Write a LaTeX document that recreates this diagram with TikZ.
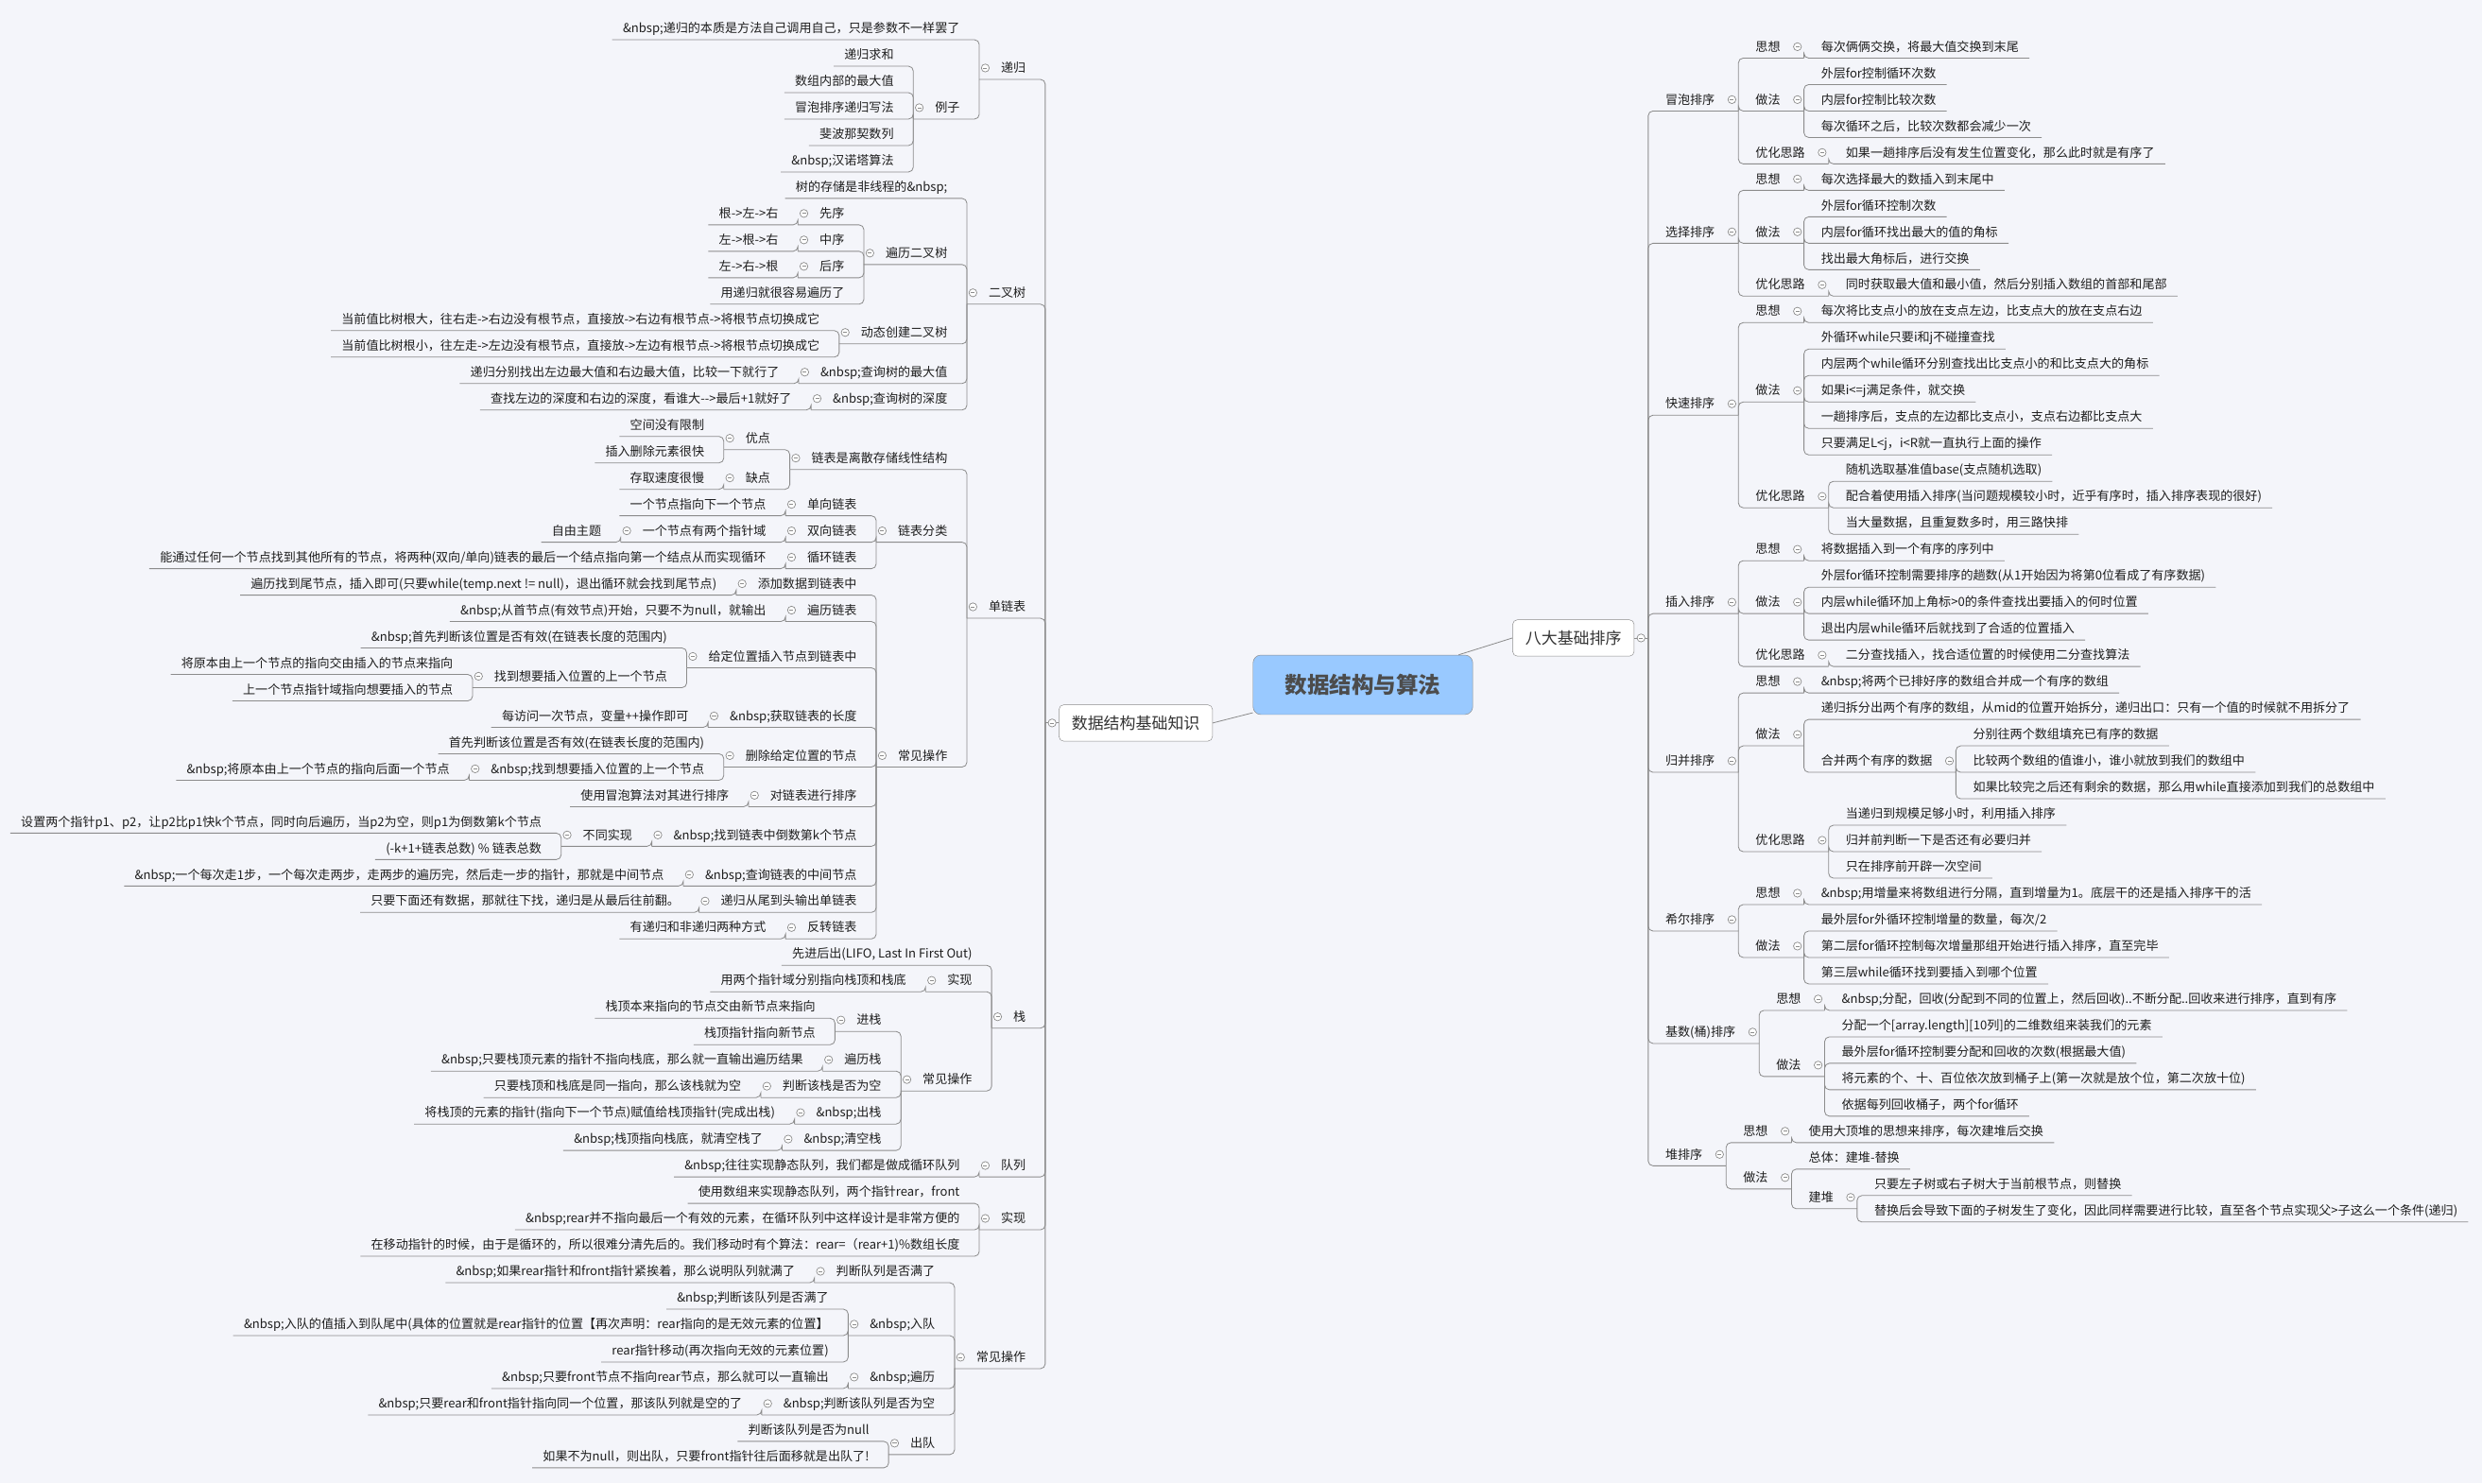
\documentclass[tikz,border=0pt]{standalone}
\usepackage{fontspec}
\setmainfont{Noto Sans CJK SC}
\usepackage{tikz}

\definecolor{bgc}{RGB}{244,245,250}
\definecolor{linec}{RGB}{140,140,140}
\definecolor{rootc}{RGB}{153,201,255}
\definecolor{txtc}{RGB}{30,30,30}

\newcommand{\leaffont}{\fontsize{11.1pt}{13pt}\selectfont}
\newcommand{\nb}{\&nbsp;}

\tikzset{
  link/.style={draw=linec, line width=0.7pt, rounded corners=1.5mm},
  rtext/.style={anchor=south west, inner sep=0pt, text depth=2.12mm, text height=3.2mm, font=\leaffont, text=txtc},
  ltext/.style={rtext, anchor=south east},
  fold/.style={circle, draw=linec, fill=white, line width=0.6pt, inner sep=0pt, minimum size=2.5mm,
    path picture={\draw[linec, line width=0.6pt] ([xshift=-0.6mm]path picture bounding box.center) -- ([xshift=0.6mm]path picture bounding box.center);}},
  hub/.style={inner sep=0pt, minimum size=0pt},
  mainbox/.style={draw=linec, fill=white, rounded corners=1.5mm, minimum height=11.5mm, inner xsep=4mm,
    font=\fontsize{14.4pt}{17pt}\selectfont, text=black!80},
  rootbox/.style={draw=linec, fill=rootc, rounded corners=2.5mm, minimum width=69.4mm, minimum height=18.8mm,
    font=\fontsize{20pt}{24pt}\selectfont\bfseries, text=black!70},
}

% right side topics: name, parent, row, text
\newcommand{\Rleaf}[4]{%
  \node[rtext] (#1) at (#2.south east |- 0,{36.7+16.71*#3}) {\hspace*{5.35mm}#4\hspace*{3.3mm}};
  \draw[link] (#2.south east) -- (#1.south west) -- (#1.south east);}
\newcommand{\Rbranch}[4]{%
  \node[rtext] (#1) at (#2.south east |- 0,{36.7+16.71*#3}) {\hspace*{5.35mm}#4\hspace*{7.4mm}};
  \draw[link] (#2.south east) -- (#1.south west) -- (#1.south east);
  \node[fold] (#1f) at ([xshift=-2.05mm,yshift=3.6mm]#1.south east) {};}
% left side topics
\newcommand{\Lleaf}[4]{%
  \node[ltext] (#1) at (#2.south west |- 0,{25.1+16.706*#3}) {\hspace*{3.3mm}#4\hspace*{6.1mm}};
  \draw[link] (#2.south west) -- (#1.south east) -- (#1.south west);}
\newcommand{\Lbranch}[4]{%
  \node[ltext] (#1) at (#2.south west |- 0,{25.1+16.706*#3}) {\hspace*{6.8mm}#4\hspace*{6.1mm}};
  \draw[link] (#2.south west) -- (#1.south east) -- (#1.south west);
  \node[fold] (#1f) at ([xshift=1.9mm,yshift=3.6mm]#1.south west) {};}

\begin{document}
\begin{tikzpicture}[x=0.5mm, y=-0.5mm]
	\fill[bgc] (0,0) rectangle (1568,937);
	\path[use as bounding box] (0,0) rectangle (1568,937);

	% central topic and the two main branches
	\node[rootbox] (root) at (861,432.6) {数据结构与算法};
	\node[mainbox] (bd) at (994,403) {八大基础排序};
	\node[mainbox] (jc) at (717.5,456.7) {数据结构基础知识};
	\draw[link] (root) -- (bd.west);
	\draw[link] (root) -- (jc.east);
	\node[hub] (bdb) at ([xshift=4.3mm]bd.east) {};
	\node[hub] (jcb) at ([xshift=-4.2mm]jc.west) {};
	\draw[link] (bd.east) -- (bdb);
	\draw[link] (jc.west) -- (jcb);

	% ---- 八大基础排序 ----
	\Rbranch{mp}{bdb}{2}{冒泡排序}
	\Rbranch{mpA}{mp}{0}{思想}
	\Rleaf{mpA1}{mpA}{0}{每次俩俩交换，将最大值交换到末尾}
	\Rbranch{mpB}{mp}{2}{做法}
	\Rleaf{mpB1}{mpB}{1}{外层for控制循环次数}
	\Rleaf{mpB2}{mpB}{2}{内层for控制比较次数}
	\Rleaf{mpB3}{mpB}{3}{每次循环之后，比较次数都会减少一次}
	\Rbranch{mpC}{mp}{4}{优化思路}
	\Rleaf{mpC1}{mpC}{4}{如果一趟排序后没有发生位置变化，那么此时就是有序了}

	\Rbranch{xz}{bdb}{7}{选择排序}
	\Rbranch{xzA}{xz}{5}{思想}
	\Rleaf{xzA1}{xzA}{5}{每次选择最大的数插入到末尾中}
	\Rbranch{xzB}{xz}{7}{做法}
	\Rleaf{xzB1}{xzB}{6}{外层for循环控制次数}
	\Rleaf{xzB2}{xzB}{7}{内层for循环找出最大的值的角标}
	\Rleaf{xzB3}{xzB}{8}{找出最大角标后，进行交换}
	\Rbranch{xzC}{xz}{9}{优化思路}
	\Rleaf{xzC1}{xzC}{9}{同时获取最大值和最小值，然后分别插入数组的首部和尾部}

	\Rbranch{ks}{bdb}{13.5}{快速排序}
	\Rbranch{ksA}{ks}{10}{思想}
	\Rleaf{ksA1}{ksA}{10}{每次将比支点小的放在支点左边，比支点大的放在支点右边}
	\Rbranch{ksB}{ks}{13}{做法}
	\Rleaf{ksB1}{ksB}{11}{外循环while只要i和j不碰撞查找}
	\Rleaf{ksB2}{ksB}{12}{内层两个while循环分别查找出比支点小的和比支点大的角标}
	\Rleaf{ksB3}{ksB}{13}{如果i<=j满足条件，就交换}
	\Rleaf{ksB4}{ksB}{14}{一趟排序后，支点的左边都比支点小，支点右边都比支点大}
	\Rleaf{ksB5}{ksB}{15}{只要满足L<j，i<R就一直执行上面的操作}
	\Rbranch{ksC}{ks}{17}{优化思路}
	\Rleaf{ksC1}{ksC}{16}{随机选取基准值base(支点随机选取)}
	\Rleaf{ksC2}{ksC}{17}{配合着使用插入排序(当问题规模较小时，近乎有序时，插入排序表现的很好)}
	\Rleaf{ksC3}{ksC}{18}{当大量数据，且重复数多时，用三路快排}

	\Rbranch{cr}{bdb}{21}{插入排序}
	\Rbranch{crA}{cr}{19}{思想}
	\Rleaf{crA1}{crA}{19}{将数据插入到一个有序的序列中}
	\Rbranch{crB}{cr}{21}{做法}
	\Rleaf{crB1}{crB}{20}{外层for循环控制需要排序的趟数(从1开始因为将第0位看成了有序数据)}
	\Rleaf{crB2}{crB}{21}{内层while循环加上角标>0的条件查找出要插入的何时位置}
	\Rleaf{crB3}{crB}{22}{退出内层while循环后就找到了合适的位置插入}
	\Rbranch{crC}{cr}{23}{优化思路}
	\Rleaf{crC1}{crC}{23}{二分查找插入，找合适位置的时候使用二分查找算法}

	\Rbranch{gb}{bdb}{27}{归并排序}
	\Rbranch{gbA}{gb}{24}{思想}
	\Rleaf{gbA1}{gbA}{24}{\nb{}将两个已排好序的数组合并成一个有序的数组}
	\Rbranch{gbB}{gb}{26}{做法}
	\Rleaf{gbB1}{gbB}{25}{递归拆分出两个有序的数组，从mid的位置开始拆分，递归出口：只有一个值的时候就不用拆分了}
	\Rbranch{gbB2}{gbB}{27}{合并两个有序的数据}
	\Rleaf{gbB2a}{gbB2}{26}{分别往两个数组填充已有序的数据}
	\Rleaf{gbB2b}{gbB2}{27}{比较两个数组的值谁小，谁小就放到我们的数组中}
	\Rleaf{gbB2c}{gbB2}{28}{如果比较完之后还有剩余的数据，那么用while直接添加到我们的总数组中}
	\Rbranch{gbC}{gb}{30}{优化思路}
	\Rleaf{gbC1}{gbC}{29}{当递归到规模足够小时，利用插入排序}
	\Rleaf{gbC2}{gbC}{30}{归并前判断一下是否还有必要归并}
	\Rleaf{gbC3}{gbC}{31}{只在排序前开辟一次空间}

	\Rbranch{xe}{bdb}{33}{希尔排序}
	\Rbranch{xeA}{xe}{32}{思想}
	\Rleaf{xeA1}{xeA}{32}{\nb{}用增量来将数组进行分隔，直到增量为1。底层干的还是插入排序干的活}
	\Rbranch{xeB}{xe}{34}{做法}
	\Rleaf{xeB1}{xeB}{33}{最外层for外循环控制增量的数量，每次/2}
	\Rleaf{xeB2}{xeB}{34}{第二层for循环控制每次增量那组开始进行插入排序，直至完毕}
	\Rleaf{xeB3}{xeB}{35}{第三层while循环找到要插入到哪个位置}

	\Rbranch{js}{bdb}{37.25}{基数(桶)排序}
	\Rbranch{jsA}{js}{36}{思想}
	\Rleaf{jsA1}{jsA}{36}{\nb{}分配，回收(分配到不同的位置上，然后回收)..不断分配..回收来进行排序，直到有序}
	\Rbranch{jsB}{js}{38.5}{做法}
	\Rleaf{jsB1}{jsB}{37}{分配一个[array.length][10列]的二维数组来装我们的元素}
	\Rleaf{jsB2}{jsB}{38}{最外层for循环控制要分配和回收的次数(根据最大值)}
	\Rleaf{jsB3}{jsB}{39}{将元素的个、十、百位依次放到桶子上(第一次就是放个位，第二次放十位)}
	\Rleaf{jsB4}{jsB}{40}{依据每列回收桶子，两个for循环}

	\Rbranch{dp}{bdb}{41.875}{堆排序}
	\Rbranch{dpA}{dp}{41}{思想}
	\Rleaf{dpA1}{dpA}{41}{使用大顶堆的思想来排序，每次建堆后交换}
	\Rbranch{dpB}{dp}{42.75}{做法}
	\Rleaf{dpB1}{dpB}{42}{总体：建堆-替换}
	\Rbranch{dpB2}{dpB}{43.5}{建堆}
	\Rleaf{dpB2a}{dpB2}{43}{只要左子树或右子树大于当前根节点，则替换}
	\Rleaf{dpB2b}{dpB2}{44}{替换后会导致下面的子树发生了变化，因此同样需要进行比较，直至各个节点实现父>子这么一个条件(递归)}

	% ---- 数据结构基础知识 ----
	\Lbranch{dg}{jcb}{1.5}{递归}
	\Lleaf{dgA}{dg}{0}{\nb{}递归的本质是方法自己调用自己，只是参数不一样罢了}
	\Lbranch{dgB}{dg}{3}{例子}
	\Lleaf{dgB1}{dgB}{1}{递归求和}
	\Lleaf{dgB2}{dgB}{2}{数组内部的最大值}
	\Lleaf{dgB3}{dgB}{3}{冒泡排序递归写法}
	\Lleaf{dgB4}{dgB}{4}{斐波那契数列}
	\Lleaf{dgB5}{dgB}{5}{\nb{}汉诺塔算法}

	\Lbranch{ecs}{jcb}{10}{二叉树}
	\Lleaf{ecsA}{ecs}{6}{树的存储是非线程的\nb}
	\Lbranch{ecsB}{ecs}{8.5}{遍历二叉树}
	\Lbranch{ecsB1}{ecsB}{7}{先序}
	\Lleaf{ecsB1a}{ecsB1}{7}{根->左->右}
	\Lbranch{ecsB2}{ecsB}{8}{中序}
	\Lleaf{ecsB2a}{ecsB2}{8}{左->根->右}
	\Lbranch{ecsB3}{ecsB}{9}{后序}
	\Lleaf{ecsB3a}{ecsB3}{9}{左->右->根}
	\Lleaf{ecsB4}{ecsB}{10}{用递归就很容易遍历了}
	\Lbranch{ecsC}{ecs}{11.5}{动态创建二叉树}
	\Lleaf{ecsC1}{ecsC}{11}{当前值比树根大，往右走->右边没有根节点，直接放->右边有根节点->将根节点切换成它}
	\Lleaf{ecsC2}{ecsC}{12}{当前值比树根小，往左走->左边没有根节点，直接放->左边有根节点->将根节点切换成它}
	\Lbranch{ecsD}{ecs}{13}{\nb{}查询树的最大值}
	\Lleaf{ecsD1}{ecsD}{13}{递归分别找出左边最大值和右边最大值，比较一下就行了}
	\Lbranch{ecsE}{ecs}{14}{\nb{}查询树的深度}
	\Lleaf{ecsE1}{ecsE}{14}{查找左边的深度和右边的深度，看谁大-\kern0pt->最后+1就好了}

	\Lbranch{dlb}{jcb}{21.875}{单链表}
	\Lbranch{dlbA}{dlb}{16.25}{链表是离散存储线性结构}
	\Lbranch{dlbA1}{dlbA}{15.5}{优点}
	\Lleaf{dlbA1a}{dlbA1}{15}{空间没有限制}
	\Lleaf{dlbA1b}{dlbA1}{16}{插入删除元素很快}
	\Lbranch{dlbA2}{dlbA}{17}{缺点}
	\Lleaf{dlbA2a}{dlbA2}{17}{存取速度很慢}
	\Lbranch{dlbB}{dlb}{19}{链表分类}
	\Lbranch{dlbB1}{dlbB}{18}{单向链表}
	\Lleaf{dlbB1a}{dlbB1}{18}{一个节点指向下一个节点}
	\Lbranch{dlbB2}{dlbB}{19}{双向链表}
	\Lbranch{dlbB2a}{dlbB2}{19}{一个节点有两个指针域}
	\Lleaf{dlbB2b}{dlbB2a}{19}{自由主题}
	\Lbranch{dlbB3}{dlbB}{20}{循环链表}
	\Lleaf{dlbB3a}{dlbB3}{20}{能通过任何一个节点找到其他所有的节点，将两种(双向/单向)链表的最后一个结点指向第一个结点从而实现循环}
	\Lbranch{dlbC}{dlb}{27.5}{常见操作}
	\Lbranch{dlbC1}{dlbC}{21}{添加数据到链表中}
	\Lleaf{dlbC1a}{dlbC1}{21}{遍历找到尾节点，插入即可(只要while(temp.next != null)，退出循环就会找到尾节点)}
	\Lbranch{dlbC2}{dlbC}{22}{遍历链表}
	\Lleaf{dlbC2a}{dlbC2}{22}{\nb{}从首节点(有效节点)开始，只要不为null，就输出}
	\Lbranch{dlbC3}{dlbC}{23.75}{给定位置插入节点到链表中}
	\Lleaf{dlbC3a}{dlbC3}{23}{\nb{}首先判断该位置是否有效(在链表长度的范围内)}
	\Lbranch{dlbC3b}{dlbC3}{24.5}{找到想要插入位置的上一个节点}
	\Lleaf{dlbC3b1}{dlbC3b}{24}{将原本由上一个节点的指向交由插入的节点来指向}
	\Lleaf{dlbC3b2}{dlbC3b}{25}{上一个节点指针域指向想要插入的节点}
	\Lbranch{dlbC4}{dlbC}{26}{\nb{}获取链表的长度}
	\Lleaf{dlbC4a}{dlbC4}{26}{每访问一次节点，变量++操作即可}
	\Lbranch{dlbC5}{dlbC}{27.5}{删除给定位置的节点}
	\Lleaf{dlbC5a}{dlbC5}{27}{首先判断该位置是否有效(在链表长度的范围内)}
	\Lbranch{dlbC5b}{dlbC5}{28}{\nb{}找到想要插入位置的上一个节点}
	\Lleaf{dlbC5b1}{dlbC5b}{28}{\nb{}将原本由上一个节点的指向后面一个节点}
	\Lbranch{dlbC6}{dlbC}{29}{对链表进行排序}
	\Lleaf{dlbC6a}{dlbC6}{29}{使用冒泡算法对其进行排序}
	\Lbranch{dlbC7}{dlbC}{30.5}{\nb{}找到链表中倒数第k个节点}
	\Lbranch{dlbC7a}{dlbC7}{30.5}{不同实现}
	\Lleaf{dlbC7a1}{dlbC7a}{30}{设置两个指针p1、p2，让p2比p1快k个节点，同时向后遍历，当p2为空，则p1为倒数第k个节点}
	\Lleaf{dlbC7a2}{dlbC7a}{31}{(-k+1+链表总数) \% 链表总数}
	\Lbranch{dlbC8}{dlbC}{32}{\nb{}查询链表的中间节点}
	\Lleaf{dlbC8a}{dlbC8}{32}{\nb{}一个每次走1步，一个每次走两步，走两步的遍历完，然后走一步的指针，那就是中间节点}
	\Lbranch{dlbC9}{dlbC}{33}{递归从尾到头输出单链表}
	\Lleaf{dlbC9a}{dlbC9}{33}{只要下面还有数据，那就往下找，递归是从最后往前翻。}
	\Lbranch{dlbC10}{dlbC}{34}{反转链表}
	\Lleaf{dlbC10a}{dlbC10}{34}{有递归和非递归两种方式}

	\Lbranch{zh}{jcb}{37.375}{栈}
	\Lleaf{zhA}{zh}{35}{先进后出(LIFO, Last In First Out)}
	\Lbranch{zhB}{zh}{36}{实现}
	\Lleaf{zhB1}{zhB}{36}{用两个指针域分别指向栈顶和栈底}
	\Lbranch{zhC}{zh}{39.75}{常见操作}
	\Lbranch{zhC1}{zhC}{37.5}{进栈}
	\Lleaf{zhC1a}{zhC1}{37}{栈顶本来指向的节点交由新节点来指向}
	\Lleaf{zhC1b}{zhC1}{38}{栈顶指针指向新节点}
	\Lbranch{zhC2}{zhC}{39}{遍历栈}
	\Lleaf{zhC2a}{zhC2}{39}{\nb{}只要栈顶元素的指针不指向栈底，那么就一直输出遍历结果}
	\Lbranch{zhC3}{zhC}{40}{判断该栈是否为空}
	\Lleaf{zhC3a}{zhC3}{40}{只要栈顶和栈底是同一指向，那么该栈就为空}
	\Lbranch{zhC4}{zhC}{41}{\nb{}出栈}
	\Lleaf{zhC4a}{zhC4}{41}{将栈顶的元素的指针(指向下一个节点)赋值给栈顶指针(完成出栈)}
	\Lbranch{zhC5}{zhC}{42}{\nb{}清空栈}
	\Lleaf{zhC5a}{zhC5}{42}{\nb{}栈顶指向栈底，就清空栈了}

	\Lbranch{dl}{jcb}{43}{队列}
	\Lleaf{dlA}{dl}{43}{\nb{}往往实现静态队列，我们都是做成循环队列}
	\Lbranch{sx}{jcb}{45}{实现}
	\Lleaf{sxA}{sx}{44}{使用数组来实现静态队列，两个指针rear，front}
	\Lleaf{sxB}{sx}{45}{\nb{}rear并不指向最后一个有效的元素，在循环队列中这样设计是非常方便的}
	\Lleaf{sxC}{sx}{46}{在移动指针的时候，由于是循环的，所以很难分清先后的。我们移动时有个算法：rear=（rear+1)\%数组长度}
	\Lbranch{cj}{jcb}{50.25}{常见操作}
	\Lbranch{cjA}{cj}{47}{判断队列是否满了}
	\Lleaf{cjA1}{cjA}{47}{\nb{}如果rear指针和front指针紧挨着，那么说明队列就满了}
	\Lbranch{cjB}{cj}{49}{\nb{}入队}
	\Lleaf{cjB1}{cjB}{48}{\nb{}判断该队列是否满了}
	\Lleaf{cjB2}{cjB}{49}{\nb{}入队的值插入到队尾中(具体的位置就是rear指针的位置【再次声明：rear指向的是无效元素的位置】}
	\Lleaf{cjB3}{cjB}{50}{rear指针移动(再次指向无效的元素位置)}
	\Lbranch{cjC}{cj}{51}{\nb{}遍历}
	\Lleaf{cjC1}{cjC}{51}{\nb{}只要front节点不指向rear节点，那么就可以一直输出}
	\Lbranch{cjD}{cj}{52}{\nb{}判断该队列是否为空}
	\Lleaf{cjD1}{cjD}{52}{\nb{}只要rear和front指针指向同一个位置，那该队列就是空的了}
	\Lbranch{cjE}{cj}{53.5}{出队}
	\Lleaf{cjE1}{cjE}{53}{判断该队列是否为null}
	\Lleaf{cjE2}{cjE}{54}{如果不为null，则出队，只要front指针往后面移就是出队了!}

	% fold marks of the main branches
	\node[fold] (bdf) at ([xshift=2.1mm]bd.east) {};
	\node[fold] (jcf) at ([xshift=-2.1mm]jc.west) {};
\end{tikzpicture}
\end{document}
